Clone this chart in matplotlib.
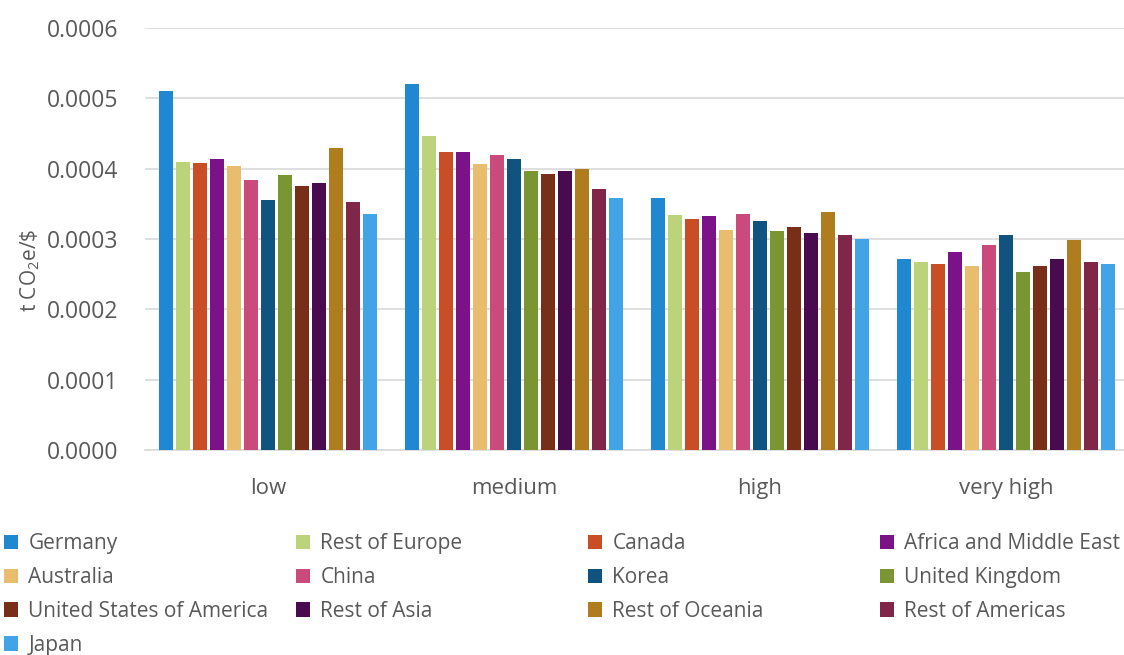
import numpy as np
import matplotlib
matplotlib.use("Agg")
import matplotlib.pyplot as plt
from matplotlib.patches import Patch

plt.rcParams['font.family'] = ['Open Sans', 'DejaVu Sans']
plt.rcParams['mathtext.default'] = 'regular'

groups = ["low", "medium", "high", "very high"]

regions = ["Germany", "Rest of Europe", "Canada", "Africa and Middle East",
           "Australia", "China", "Korea", "United Kingdom",
           "United States of America", "Rest of Asia", "Rest of Oceania",
           "Rest of Americas", "Japan"]

colors = ["#1F88D0", "#BBD37A", "#C94D25", "#7B1288",
          "#E8BE6E", "#CA4B7B", "#11537F", "#7A9632",
          "#782E17", "#4A0A50", "#B07D1E",
          "#7F2649", "#41A4E6"]

# emission intensity per region, one value per income group (t CO2e/$)
germany = [0.000511, 0.000520, 0.000359, 0.000271]
rest_of_europe = [0.000410, 0.000446, 0.000334, 0.000267]
canada = [0.000408, 0.000423, 0.000329, 0.000264]
africa_middle_east = [0.000414, 0.000423, 0.000333, 0.000281]
australia = [0.000404, 0.000406, 0.000313, 0.000261]
china = [0.000384, 0.000420, 0.000336, 0.000292]
korea = [0.000356, 0.000414, 0.000325, 0.000305]
united_kingdom = [0.000391, 0.000396, 0.000311, 0.000253]
usa = [0.000376, 0.000392, 0.000317, 0.000261]
rest_of_asia = [0.000379, 0.000396, 0.000308, 0.000272]
rest_of_oceania = [0.000430, 0.000400, 0.000339, 0.000299]
rest_of_americas = [0.000352, 0.000371, 0.000305, 0.000267]
japan = [0.000335, 0.000359, 0.000300, 0.000264]

values = [germany, rest_of_europe, canada, africa_middle_east, australia,
          china, korea, united_kingdom, usa, rest_of_asia, rest_of_oceania,
          rest_of_americas, japan]

W, H = 1124, 655
fig = plt.figure(figsize=(W / 100, H / 100), dpi=100)
ax = fig.add_axes([145 / W, (H - 450) / H, 984 / W, 422 / H])

grey = "#595959"
x = np.arange(len(groups))
step = 0.0691
width = 0.054
n = len(regions)
for i, (name, vals, c) in enumerate(zip(regions, values, colors)):
    offset = (i - (n - 1) / 2) * step
    ax.bar(x + offset, vals, width=width, color=c, zorder=3)

ax.set_xlim(-0.5, len(groups) - 0.5)
ax.set_ylim(0, 0.0006)
ax.set_yticks(np.arange(0, 0.00061, 0.0001))
ax.set_yticklabels([f"{v:.4f}" for v in np.arange(0, 0.00061, 0.0001)])
ax.set_xticks(x)
ax.set_xticklabels(groups)
ax.tick_params(axis='y', length=0, pad=19, labelsize=16.5, labelcolor=grey)
ax.tick_params(axis='x', length=0, pad=20, labelsize=16, labelcolor=grey)
ax.grid(axis='y', color="#d9d9d9", linewidth=1.2, zorder=0)
for side in ["top", "right", "left"]:
    ax.spines[side].set_visible(False)
ax.spines["bottom"].set_color("#d9d9d9")
ax.spines["bottom"].set_linewidth(1.2)

fig.text(30 / W, (H - 270) / H, "t CO$_2$e/\\$", rotation=90, fontsize=15,
         color=grey, ha='center', va='center')

# legend laid out row by row, one legend per column
col_x = [4, 296, 588, 880]
ncol = 4
for c in range(ncol):
    idx = list(range(c, n, ncol))
    handles = [Patch(facecolor=colors[k], edgecolor='none') for k in idx]
    labels = [regions[k] for k in idx]
    leg = fig.legend(handles, labels, loc='upper left',
                     bbox_to_anchor=(col_x[c] / W, (H - 533) / H),
                     frameon=False, fontsize=15, handlelength=0.67,
                     handleheight=0.67, handletextpad=0.5, labelspacing=0.62,
                     borderpad=0, borderaxespad=0)
    for t in leg.get_texts():
        t.set_color(grey)

fig.savefig("out.png", dpi=100)
